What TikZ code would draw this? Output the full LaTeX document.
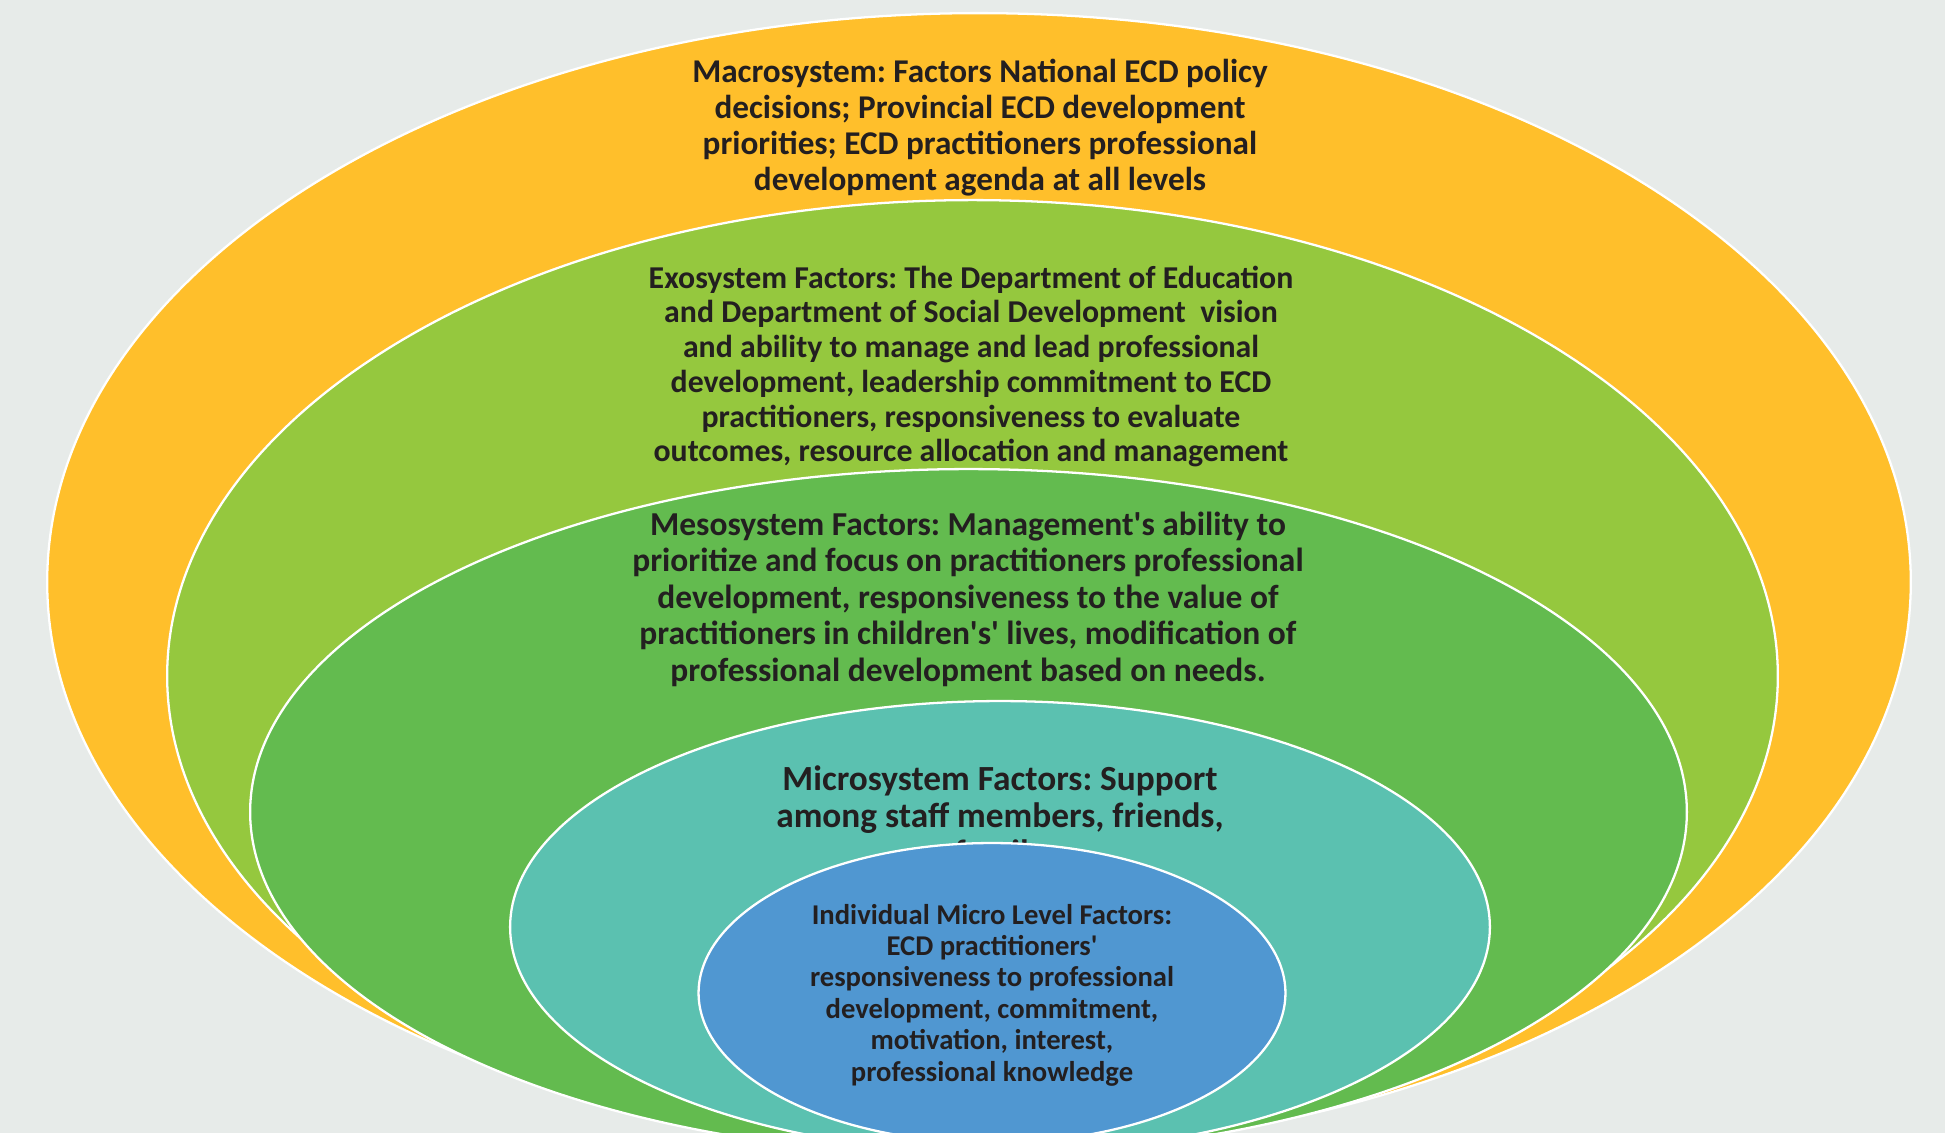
\documentclass[tikz,border=0pt]{standalone}
\usepackage{fontspec}
\setmainfont{Carlito}
\usetikzlibrary{positioning}

\definecolor{bgcol}{HTML}{E7EBE9}
\definecolor{macrocol}{HTML}{FFBF2B}
\definecolor{exocol}{HTML}{95C83E}
\definecolor{mesocol}{HTML}{63BB4F}
\definecolor{microcol}{HTML}{5BC1B0}
\definecolor{indivcol}{HTML}{5097D1}
\definecolor{inkcol}{HTML}{231F20}

\tikzset{
  ring/.style={draw=white, line width=1.3pt},
  label/.style={align=center, text=inkcol, inner sep=0pt, font=\bfseries},
}

\begin{document}
\frenchspacing
\begin{tikzpicture}[x=0.02cm, y=-0.02cm]
  % canvas
  \useasboundingbox (0,0) rectangle (1945,1133);
  \fill[bgcol] (0,0) rectangle (1945,1133);
  \clip (0,0) rectangle (1945,1133);

  % nested system ellipses, outermost first
  \draw[ring, fill=macrocol] (979,582)   ellipse [x radius=18.64cm, y radius=11.38cm];
  \draw[ring, fill=exocol]   (972.5,676) ellipse [x radius=16.11cm, y radius=9.52cm];
  \draw[ring, fill=mesocol]  (968.5,812) ellipse [x radius=14.37cm, y radius=6.86cm];
  \draw[ring, fill=microcol] (1000,927)  ellipse [x radius=9.80cm,  y radius=4.52cm];

  \node[label, font=\bfseries\fontsize{20.1}{21}\selectfont] (micro) at (1000,818)
    {Microsystem Factors: Support\\among staff members, friends,\\family};

  \draw[ring, fill=indivcol] (992,993)   ellipse [x radius=5.87cm,  y radius=3.00cm];

  % labels
  \node[label, font=\bfseries\fontsize{18.9}{20.5}\selectfont] (macro) at (980,127.5)
    {Macrosystem: Factors National ECD policy\\decisions; Provincial ECD development\\priorities; ECD practitioners professional\\development agenda at all levels};

  \node[label, font=\bfseries\fontsize{18.1}{19.8}\selectfont] (exo) at (971,366.5)
    {Exosystem Factors: The Department of Education\\and Department of Social Development\ \ vision\\and ability to manage and lead professional\\development, leadership commitment to ECD\\practitioners, responsiveness to evaluate\\outcomes, resource allocation and management};

  \node[label, font=\bfseries\fontsize{19.05}{20.8}\selectfont] (meso) at (968,599)
    {Mesosystem Factors: Management\textquotesingle s ability to\\prioritize and focus on practitioners professional\\development, responsiveness to the value of\\practitioners in children\textquotesingle s\textquotesingle{} lives, modification of\\professional development based on needs.};

  \node[label, font=\bfseries\fontsize{16.3}{17.9}\selectfont] (indiv) at (992,995)
    {Individual Micro Level Factors:\\ECD practitioners\textquotesingle\\responsiveness to professional\\development, commitment,\\motivation, interest,\\professional knowledge};
\end{tikzpicture}
\end{document}
